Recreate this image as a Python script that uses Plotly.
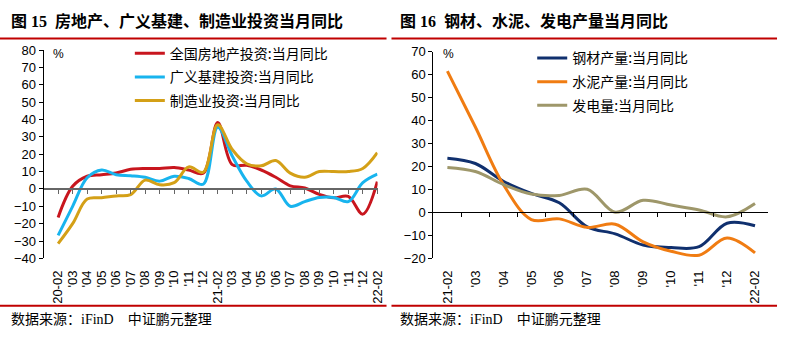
import plotly.graph_objects as go

W, H = 786, 340

# ---------------- data ----------------
left_labels = ["20-02", "'03", "'04", "'05", "'06", "'07", "'08", "'09", "'10", "'11", "'12",
               "21-02", "'03", "'04", "'05", "'06", "'07", "'08", "'09", "'10", "'11", "'12",
               "22-02"]
real_estate = [-16.4, 1.5, 7.3, 8.2, 9.2, 11.3, 11.8, 11.8, 12.4, 10.9, 9.0,
               38.2, 14.0, 13.6, 10.9, 6.7, 1.8, 0.5, -3.1, -5.1, -4.3, -14.5, 4.2]
infrastructure = [-26.7, -10.0, 6.4, 10.9, 8.2, 7.6, 6.7, 4.5, 7.3, 6.0, 2.7,
                  35.5, 19.0, 4.5, -4.0, 0.0, -10.0, -7.3, -4.9, -4.9, -7.3, 3.6, 8.5]
manufacturing = [-31.5, -20.0, -5.8, -5.1, -4.0, -3.3, 5.1, 2.4, 3.6, 12.7, 9.6,
                 36.9, 22.7, 14.5, 13.3, 16.4, 9.1, 6.7, 10.0, 10.0, 10.0, 11.8, 20.9]

right_labels = ["21-02", "'03", "'04", "'05", "'06", "'07", "'08", "'09", "'10", "'11", "'12", "22-02"]
steel = [23.6, 21.3, 13.6, 8.3, 4.2, -6.3, -9.3, -14.2, -15.3, -14.9, -4.7, -5.8]
cement = [61.5, 37.2, 12.2, -3.1, -2.8, -6.5, -5.1, -12.8, -16.9, -18.6, -11.1, -17.6]
power = [19.6, 17.8, 12.2, 8.0, 7.4, 10.1, 0.1, 5.3, 3.2, 1.1, -1.9, 3.9]

left_names = ["全国房地产投资:当月同比", "广义基建投资:当月同比", "制造业投资:当月同比"]
right_names = ["钢材产量:当月同比", "水泥产量:当月同比", "发电量:当月同比"]
left_colors = ["#C8161E", "#18B4EE", "#D4A017"]
right_colors = ["#10306E", "#F07C12", "#9E976A"]

# ---------------- layout geometry ----------------
def px_x(x):
    return x / W

def px_y(y):
    return (H - y) / H

L_dom_x = [px_x(44), px_x(381)]
L_dom_y = [px_y(263), px_y(45)]
R_dom_x = [px_x(437.3), px_x(774.5)]
R_dom_y = [px_y(263), px_y(46.7)]
L_yr = [-40, 80]
R_yr = [-20, 70]
L_xr = [-1.0, 22.02]
R_xr = [-0.5, 11.45]

def zero_pos(dom, yr):
    return dom[0] + (0 - yr[0]) / (yr[1] - yr[0]) * (dom[1] - dom[0])

fig = go.Figure()

xl = list(range(len(left_labels)))
xr = list(range(len(right_labels)))

for name, ys, c in zip(left_names, [real_estate, infrastructure, manufacturing], left_colors):
    fig.add_trace(go.Scatter(x=xl, y=ys, name=name, mode="lines",
                             line=dict(color=c, width=3, shape="spline", smoothing=1.0),
                             xaxis="x", yaxis="y", legend="legend", legendgroup=name))
for name, ys, c in zip(right_names, [steel, cement, power], right_colors):
    fig.add_trace(go.Scatter(x=xr, y=ys, name=name, mode="lines",
                             line=dict(color=c, width=3, shape="spline", smoothing=1.0),
                             xaxis="x2", yaxis="y2", legend="legend2", legendgroup=name))

tick_font = dict(family="Liberation Sans, Arial", size=13, color="#000")

yax_common = dict(showgrid=False, zeroline=False, showline=True, linecolor="#000", linewidth=1,
                  ticks="outside", ticklen=4, tickcolor="#000", dtick=10, tickfont=tick_font,
                  fixedrange=True)
xax_label = dict(showgrid=False, zeroline=False, showline=False, ticks="outside", ticklen=6,
                 tickcolor="rgba(0,0,0,0)", tickangle=-90, tickfont=tick_font, tickmode="array")

fig.update_layout(
    width=W, height=H, margin=dict(l=0, r=0, t=0, b=0),
    paper_bgcolor="#fff", plot_bgcolor="rgba(0,0,0,0)",
    xaxis=dict(domain=L_dom_x, anchor="y", range=L_xr, tickvals=xl, ticktext=left_labels, **xax_label),
    yaxis=dict(domain=L_dom_y, anchor="x", range=L_yr, **yax_common),
    xaxis2=dict(domain=R_dom_x, anchor="y2", range=R_xr, tickvals=xr, ticktext=right_labels, **xax_label),
    yaxis2=dict(domain=R_dom_y, anchor="x2", range=R_yr, **yax_common),
    # zero-crossing category axes
    xaxis3=dict(domain=L_dom_x, overlaying="x", anchor="free", position=zero_pos(L_dom_y, L_yr),
                range=L_xr, showline=True, linecolor="#666", linewidth=1.5, ticks="outside",
                ticklen=4, tickcolor="#666", tickvals=xl, showticklabels=False, showgrid=False,
                zeroline=False),
    xaxis4=dict(domain=R_dom_x, overlaying="x2", anchor="free", position=zero_pos(R_dom_y, R_yr),
                range=R_xr, showline=True, linecolor="#000", linewidth=1, ticks="outside",
                ticklen=4, tickcolor="#000", tickvals=[v + 0.5 for v in xr], showticklabels=False,
                showgrid=False, zeroline=False),
    legend=dict(x=px_x(131), y=px_y(32), xanchor="left", yanchor="top",
                font=dict(family="Noto Sans CJK SC", size=14, color="#000"),
                bgcolor="rgba(0,0,0,0)", tracegroupgap=2.5, itemwidth=30),
    legend2=dict(x=px_x(537), y=px_y(37), xanchor="left", yanchor="top",
                 font=dict(family="Noto Sans CJK SC", size=14, color="#000"),
                 bgcolor="rgba(0,0,0,0)", tracegroupgap=2.5, itemwidth=30),
    showlegend=True,
)

# invisible traces to activate the overlay axes
fig.add_trace(go.Scatter(x=[0], y=[0], xaxis="x3", yaxis="y", mode="markers",
                         marker=dict(opacity=0), showlegend=False, hoverinfo="skip"))
fig.add_trace(go.Scatter(x=[0], y=[0], xaxis="x4", yaxis="y2", mode="markers",
                         marker=dict(opacity=0), showlegend=False, hoverinfo="skip"))

# red separator lines
for (x0, x1) in [(0, 390), (395, 784)]:
    for yy in (33, 312.5):
        fig.add_shape(type="line", xref="paper", yref="paper", x0=px_x(x0), x1=px_x(x1),
                      y0=px_y(yy), y1=px_y(yy), line=dict(color="#C00000", width=2))

title_font = dict(family="Liberation Serif, Noto Sans CJK SC", size=16, color="#000", weight="bold")
fig.add_annotation(text="图 15  房地产、广义基建、制造业投资当月同比", xref="paper", yref="paper",
                   x=px_x(9), y=px_y(15), xanchor="left", yanchor="middle", showarrow=False,
                   font=title_font)
fig.add_annotation(text="图 16  钢材、水泥、发电产量当月同比", xref="paper", yref="paper",
                   x=px_x(402), y=px_y(15), xanchor="left", yanchor="middle", showarrow=False,
                   font=title_font)

foot_font = dict(family="Liberation Serif, Noto Sans CJK SC", size=14, color="#000")
for xx in (9, 402):
    fig.add_annotation(text="数据来源：iFinD　中证鹏元整理", xref="paper", yref="paper",
                       x=px_x(xx), y=px_y(327), xanchor="left", yanchor="middle", showarrow=False,
                       font=foot_font)

pct_font = dict(family="Liberation Sans, Arial", size=12, color="#000")
fig.add_annotation(text="%", xref="paper", yref="paper", x=px_x(59), y=px_y(49),
                   xanchor="center", yanchor="middle", showarrow=False, font=pct_font)
fig.add_annotation(text="%", xref="paper", yref="paper", x=px_x(453), y=px_y(49),
                   xanchor="center", yanchor="middle", showarrow=False, font=pct_font)

fig.write_html("out.html")
